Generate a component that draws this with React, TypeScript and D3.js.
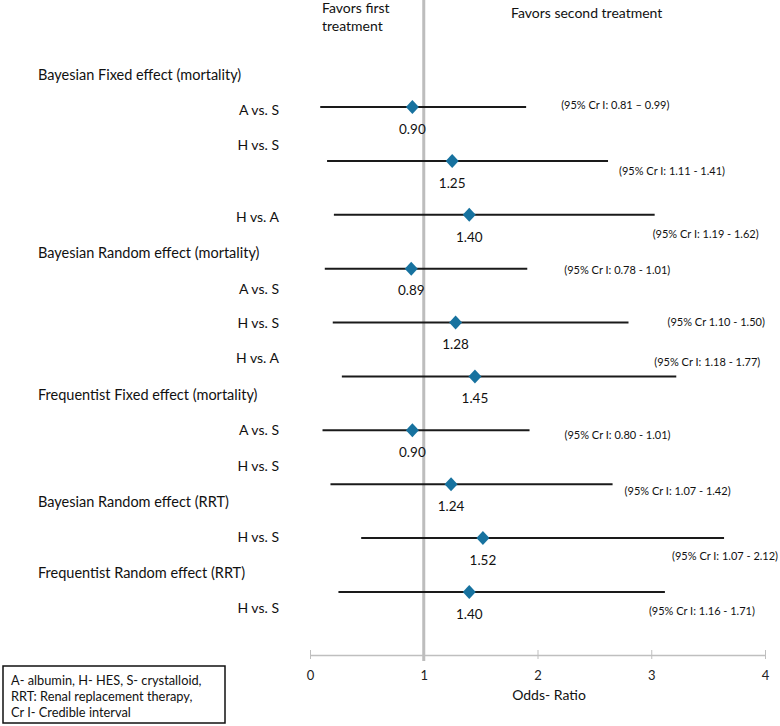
import { useRef, useEffect } from 'react';
import * as d3 from 'd3';

// comparisons, top to bottom
const comparisons = ['A vs. S', 'H vs. S', 'H vs. A', 'A vs. S', 'H vs. S', 'H vs. A', 'A vs. S', 'H vs. S', 'H vs. S', 'H vs. S'];
const oddsRatio = [0.90, 1.25, 1.40, 0.89, 1.28, 1.45, 0.90, 1.24, 1.52, 1.40];
// whisker ends as drawn in the picture
const barLow = [0.09, 0.15, 0.21, 0.13, 0.20, 0.28, 0.11, 0.18, 0.45, 0.25];
const barHigh = [1.90, 2.62, 3.03, 1.91, 2.80, 3.22, 1.93, 2.66, 3.64, 3.12];
const ciLabels = [
  '(95% Cr I: 0.81 \u2013 0.99)',
  '(95% Cr I: 1.11 - 1.41)',
  '(95% Cr I: 1.19 - 1.62)',
  '(95% Cr I: 0.78 - 1.01)',
  '(95% Cr 1.10 - 1.50)',
  '(95% Cr I: 1.18 - 1.77)',
  '(95% Cr I: 0.80 - 1.01)',
  '(95% Cr I: 1.07 - 1.42)',
  '(95% Cr I: 1.07 - 2.12)',
  '(95% Cr I: 1.16 - 1.71)',
];
const groups = [
  'Bayesian Fixed effect (mortality)',
  'Bayesian Random effect (mortality)',
  'Frequentist Fixed effect (mortality)',
  'Bayesian Random effect (RRT)',
  'Frequentist Random effect (RRT)',
];
const xTicks = [0, 1, 2, 3, 4];
const legendLines = [
  'A- albumin, H- HES, S- crystalloid,',
  'RRT: Renal replacement therapy,',
  'Cr I- Credible interval',
];

// layout nudges (px / row units), not data
const groupSlot = [-0.59, 2.71, 5.34, 7.33, 8.65];
const labelDy = [3, -16, 2, 20, 1, -18, 0, -18, -1, 16];
const ciDx = [35, 11, -2, 37, 39, -22, 35, 12, -52, -16];
const ciDy = [-2, 10, 19, 1, 0, -14, 5, 7, 18, 19];

const FONT = 'Lato, "Open Sans", sans-serif';

export default function App() {
  const svgRef = useRef<SVGSVGElement>(null);

  useEffect(() => {
    const w = 780, h = 726;
    const axisY = 655;

    const x = d3.scaleLinear().domain([0, 4]).range([310, 765]);
    const y = d3.scaleLinear().domain([0, 9]).range([107, 592]);

    const svg = d3.select(svgRef.current)
      .attr('width', w)
      .attr('height', h)
      .style('font-family', FONT);
    svg.selectAll('*').remove();

    // reference line at OR = 1
    svg.append('line')
      .attr('x1', x(1)).attr('x2', x(1))
      .attr('y1', 0).attr('y2', axisY + 6)
      .attr('stroke', '#bdbdbd')
      .attr('stroke-width', 3);

    // axis
    const ax = svg.append('g')
      .attr('transform', `translate(0,${axisY})`)
      .call(d3.axisBottom(x).tickValues(xTicks).tickSizeOuter(0).tickFormat(d3.format('d')));
    ax.select('.domain').attr('stroke', '#bfbfbf').attr('stroke-width', 1.5);
    ax.selectAll('.tick line').attr('y1', -5).attr('y2', 4).attr('stroke', '#bfbfbf');
    ax.selectAll('.tick text')
      .attr('y', 20)
      .attr('dy', '0.35em')
      .attr('fill', '#222')
      .style('font-family', FONT)
      .style('font-size', '13px');

    svg.append('text')
      .attr('x', 549).attr('y', 695)
      .attr('dy', '0.35em')
      .attr('text-anchor', 'middle')
      .style('font-size', '14px')
      .attr('fill', '#111')
      .text('Odds- Ratio');

    // favors labels
    const top = svg.append('g').style('font-size', '14px').attr('fill', '#111');
    top.append('text').attr('x', 322).attr('y', 8).attr('dy', '0.35em').text('Favors first');
    top.append('text').attr('x', 322).attr('y', 26).attr('dy', '0.35em').text('treatment');
    top.append('text').attr('x', 511).attr('y', 13).attr('dy', '0.35em').text('Favors second treatment');

    // group headers
    svg.append('g')
      .selectAll('text')
      .data(groups)
      .join('text')
        .attr('x', 38)
        .attr('y', (_, i) => y(groupSlot[i]))
        .attr('dy', '0.35em')
        .style('font-size', '14.5px')
        .attr('fill', '#111')
        .text(d => d);

    const idx = d3.range(comparisons.length);

    // comparison labels
    svg.append('g')
      .selectAll('text')
      .data(idx)
      .join('text')
        .attr('x', 279)
        .attr('y', i => y(i) + labelDy[i])
        .attr('dy', '0.35em')
        .attr('text-anchor', 'end')
        .style('font-size', '14px')
        .attr('fill', '#111')
        .text(i => comparisons[i]);

    // whiskers
    svg.append('g')
      .selectAll('line')
      .data(idx)
      .join('line')
        .attr('x1', i => x(barLow[i]))
        .attr('x2', i => x(barHigh[i]))
        .attr('y1', i => y(i))
        .attr('y2', i => y(i))
        .attr('stroke', '#1a1a1a')
        .attr('stroke-width', 2);

    // diamonds
    svg.append('g')
      .selectAll('path')
      .data(idx)
      .join('path')
        .attr('transform', i => `translate(${x(oddsRatio[i])},${y(i)})`)
        .attr('d', 'M0,-7L6.5,0L0,7L-6.5,0Z')
        .attr('fill', '#17729f');

    // point values
    svg.append('g')
      .selectAll('text')
      .data(idx)
      .join('text')
        .attr('x', i => x(oddsRatio[i]))
        .attr('y', i => y(i) + 22)
        .attr('dy', '0.35em')
        .attr('text-anchor', 'middle')
        .style('font-size', '13.5px')
        .attr('fill', '#111')
        .text(i => d3.format('.2f')(oddsRatio[i]));

    // CI text
    svg.append('g')
      .selectAll('text')
      .data(idx)
      .join('text')
        .attr('x', i => x(barHigh[i]) + ciDx[i])
        .attr('y', i => y(i) + ciDy[i])
        .attr('dy', '0.35em')
        .style('font-size', '11px')
        .attr('fill', '#111')
        .text(i => ciLabels[i]);

    // legend box
    const lg = svg.append('g');
    lg.append('rect')
      .attr('x', 3).attr('y', 666)
      .attr('width', 222).attr('height', 57)
      .attr('fill', '#fff')
      .attr('stroke', '#111')
      .attr('stroke-width', 1.5);
    lg.selectAll('text')
      .data(legendLines)
      .join('text')
        .attr('x', 11)
        .attr('y', (_, i) => 681 + i * 16)
        .attr('dy', '0.35em')
        .style('font-size', '12.8px')
        .attr('fill', '#111')
        .text(d => d);
  }, []);

  return (
    <div style={{ position: 'absolute', left: 0, top: 0, width: 780, height: 726, background: '#fff' }}>
      <svg ref={svgRef}></svg>
    </div>
  );
}
